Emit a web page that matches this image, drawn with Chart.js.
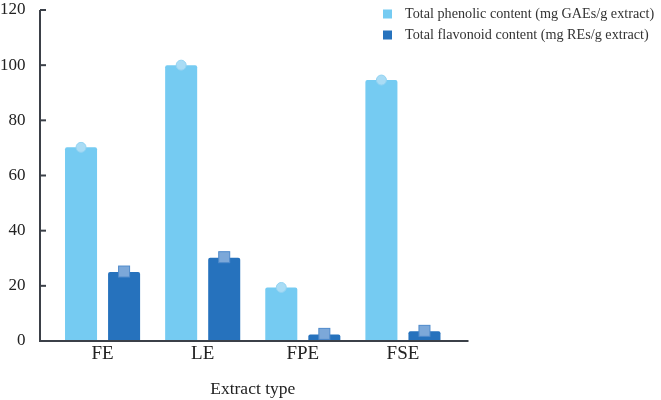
<!DOCTYPE html>
<html>
<head>
<meta charset="utf-8">
<script src="https://cdn.jsdelivr.net/npm/chart.js@4"></script>
<style>
  html, body { margin: 0; padding: 0; background: #fff; }
  #wrap { width: 661px; height: 400px; }
</style>
</head>
<body>
<div id="wrap"><canvas id="chart"></canvas></div>
<script>
const categories = ['FE', 'LE', 'FPE', 'FSE'];
const phenolic = [70.2, 100, 19.4, 94.6];
const flavonoid = [25, 30.2, 2.4, 3.5];
const yTicks = [0, 20, 40, 60, 80, 100, 120];
const seriesNames = ['Total phenolic content (mg GAEs/g extract)', 'Total flavonoid content (mg REs/g extract)'];

const lightBlue = '#75cbf2';
const darkBlue = '#2672bd';
const axisColor = '#3b4048';
const serif = "'Liberation Serif', 'Times New Roman', serif";

// draws axis lines, bar-top markers and legend
const decor = {
  id: 'decor',
  afterDatasetsDraw(chart) {
    const ctx = chart.ctx;
    const area = chart.chartArea;
    const yScale = chart.scales.y;
    const axisX = area.left - 12.5;
    ctx.save();
    ctx.strokeStyle = axisColor;
    ctx.lineWidth = 2;
    ctx.beginPath();
    ctx.moveTo(axisX, area.top);
    ctx.lineTo(axisX, area.bottom);
    ctx.lineTo(area.right + 15.5, area.bottom);
    ctx.stroke();
    yTicks.forEach(v => {
      if (v === 0) return;
      const y = yScale.getPixelForValue(v);
      ctx.beginPath();
      ctx.moveTo(axisX, y);
      ctx.lineTo(axisX + 6, y);
      ctx.stroke();
    });

    // markers on top of bars
    chart.getDatasetMeta(0).data.forEach(bar => {
      ctx.beginPath();
      ctx.arc(bar.x, bar.y, 5, 0, Math.PI * 2);
      ctx.fillStyle = '#a9dcf5';
      ctx.fill();
      ctx.lineWidth = 1;
      ctx.strokeStyle = '#92d3f2';
      ctx.stroke();
    });
    chart.getDatasetMeta(1).data.forEach(bar => {
      ctx.fillStyle = '#7ca8d9';
      ctx.fillRect(bar.x - 5.5, bar.y - 6, 11, 11);
      ctx.lineWidth = 1;
      ctx.strokeStyle = '#4f8acb';
      ctx.strokeRect(bar.x - 5.5, bar.y - 6, 11, 11);
    });

    // legend
    const colors = [lightBlue, darkBlue];
    ctx.font = '14.2px ' + serif;
    ctx.textBaseline = 'middle';
    ctx.textAlign = 'left';
    seriesNames.forEach((name, i) => {
      const y = 14 + i * 21;
      ctx.fillStyle = colors[i];
      ctx.fillRect(383, y - 4.5, 9, 9);
      ctx.fillStyle = '#333';
      ctx.fillText(name, 405, y);
    });
    ctx.restore();
  }
};

new Chart(document.getElementById('chart'), {
  type: 'bar',
  data: {
    labels: categories,
    datasets: [
      { label: seriesNames[0], data: phenolic, backgroundColor: lightBlue, borderRadius: 2, borderSkipped: 'bottom' },
      { label: seriesNames[1], data: flavonoid, backgroundColor: darkBlue, borderRadius: 2, borderSkipped: 'bottom' }
    ]
  },
  options: {
    responsive: true,
    maintainAspectRatio: false,
    animation: false,
    categoryPercentage: 0.86,
    barPercentage: 0.744,
    layout: { padding: { top: 10, right: 208, left: 0, bottom: 0 } },
    plugins: {
      legend: { display: false },
      tooltip: { enabled: false }
    },
    scales: {
      x: {
        grid: { display: false, drawTicks: false },
        border: { display: false },
        ticks: { color: '#222', font: { family: serif, size: 19 }, padding: 2 },
        title: { display: true, text: 'Extract type', color: '#222', font: { family: serif, size: 17.5 }, padding: { top: 12, bottom: 0 } },
        afterFit: s => { s.height = 59; }
      },
      y: {
        min: 0,
        max: 120,
        afterBuildTicks: s => { s.ticks = yTicks.map(v => ({ value: v })); },
        grid: { display: false, drawTicks: false },
        border: { display: false },
        ticks: { color: '#222', font: { family: serif, size: 17 }, padding: 27 },
        afterFit: s => { s.width = 52.5; s.paddingTop = 0; s.paddingBottom = 0; }
      }
    }
  },
  plugins: [decor]
});
</script>
</body>
</html>
